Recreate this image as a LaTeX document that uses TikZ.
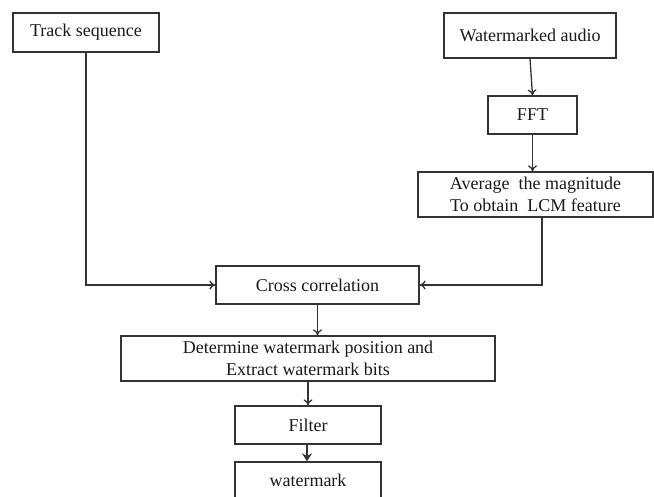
\documentclass[tikz,border=0pt]{standalone}
\usepackage{fontspec}
\setmainfont{Liberation Serif}
\usetikzlibrary{arrows.meta}

\begin{document}
\begin{tikzpicture}[x=1pt, y=-1pt, line width=1.3pt, draw=black!80,
    every node/.style={font=\fontsize{18}{21.5}\selectfont, text=black!90},
    box/.style={rectangle, draw, inner sep=2pt, align=center},
    flow/.style={-{To[length=6pt,width=9pt]}},
    bigflow/.style={-{Stealth[length=8pt,width=10pt]}, line width=2.6pt}]
  \useasboundingbox (0,0) rectangle (654,497);
  \node[box, minimum width=146, minimum height=39] (track) at (86,32.5) {Track sequence};
  \node[box, minimum width=172, minimum height=45] (audio) at (530,35.5) {Watermarked audio};
  \node[box, minimum width=89, minimum height=38] (fft) at (532.5,115) {FFT};
  \node[box, minimum width=235, minimum height=45] (avg) at (535.5,194.5) {Average\ \ the magnitude\\To obtain\ \ LCM feature};
  \node[box, minimum width=203, minimum height=38] (cross) at (317.5,285) {Cross correlation};
  \node[box, minimum width=374, minimum height=45] (extract) at (308,358.5) {Determine watermark position and\\Extract watermark bits};
  \node[box, minimum width=146, minimum height=38] (filter) at (308,425) {Filter};
  \node[box, minimum width=146, minimum height=36] (mark) at (308,480) {watermark};
  \draw[flow] (audio.south) -- (fft.north);
  \draw[flow] (fft.south) -- (fft.south |- avg.north);
  \draw[flow] ([xshift=6.5]avg.south) |- (cross.east);
  \draw[flow] (track.south) |- (cross.west);
  \draw[flow] (cross.south) -- (cross.south |- extract.north);
  \draw[flow] (extract.south) -- (filter.north);
  \draw[bigflow] ([xshift=-1]filter.south) -- ([xshift=-1]mark.north);
\end{tikzpicture}
\end{document}
